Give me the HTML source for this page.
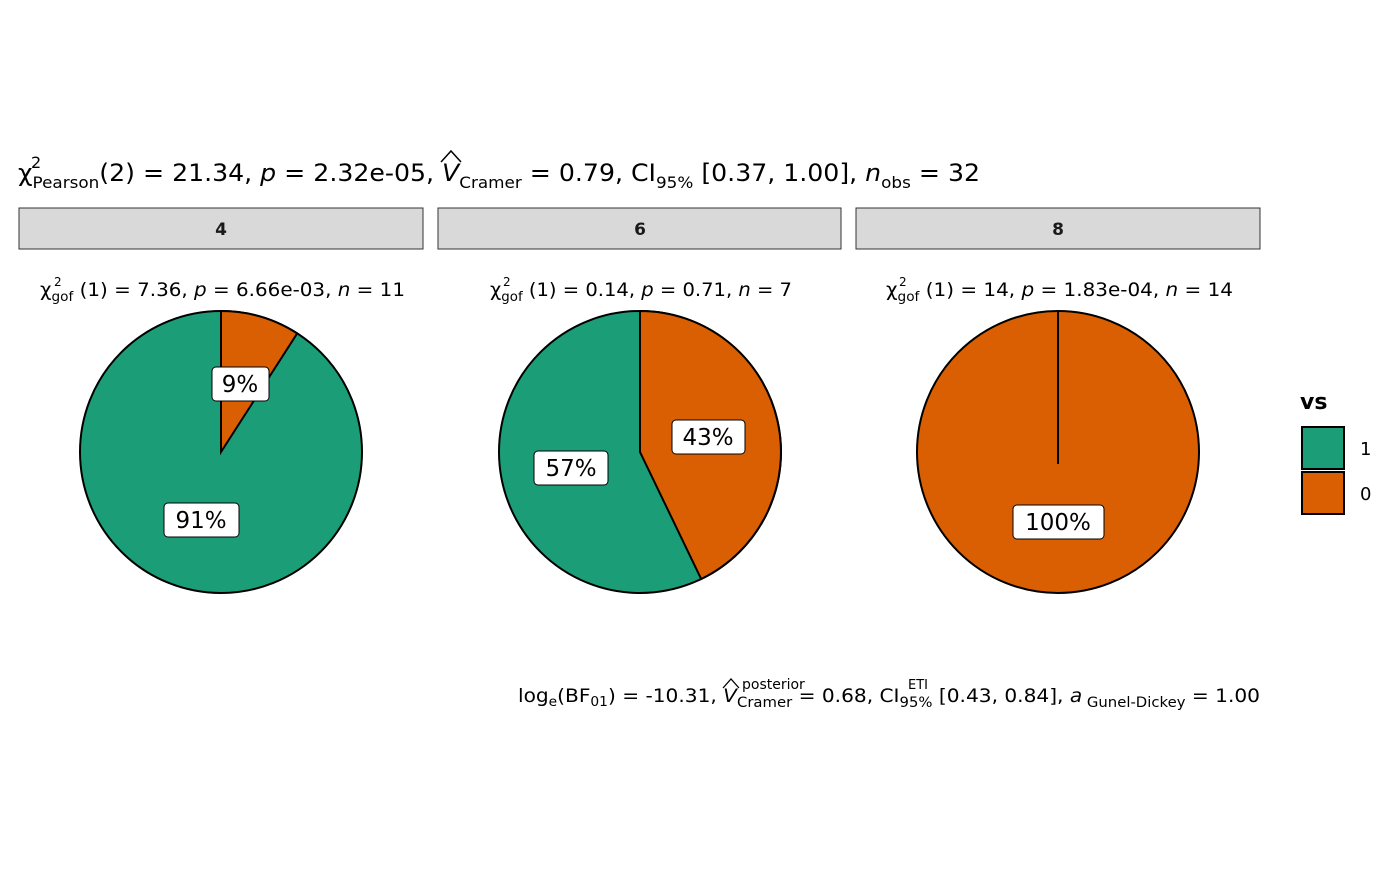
<!DOCTYPE html>
<html><head><style>body{margin:0;background:#fff}</style></head><body>
<svg width="1400" height="866" xmlns="http://www.w3.org/2000/svg" font-family="DejaVu Sans, Liberation Sans, sans-serif">
<rect width="1400" height="866" fill="#fff"/>
<text x="18" y="181" font-size="24" fill="#000" textLength="962" lengthAdjust="spacingAndGlyphs">χ<tspan font-size="16" dy="7">Pearson</tspan><tspan dy="-7">(2) = 21.34, </tspan><tspan font-style="italic">p</tspan> = 2.32e-05, <tspan font-style="italic">V</tspan><tspan font-size="16" dy="7">Cramer</tspan><tspan dy="-7"> = 0.79, CI</tspan><tspan font-size="16" dy="7">95%</tspan><tspan dy="-7"> [0.37, 1.00], </tspan><tspan font-style="italic">n</tspan><tspan font-size="16" dy="7">obs</tspan><tspan dy="-7"> = 32</tspan></text>
<text x="31" y="168" font-size="16">2</text>
<path d="M441 162 L451 151 L461 162" fill="none" stroke="#000" stroke-width="1.5"/>
<g stroke="#333" stroke-width="1" fill="#d9d9d9">
<rect x="19" y="208" width="404" height="41"/><rect x="438" y="208" width="403" height="41"/><rect x="856" y="208" width="404" height="41"/></g>
<g font-size="17" font-weight="bold" fill="#1a1a1a" text-anchor="middle">
<text x="221" y="235">4</text><text x="640" y="235">6</text><text x="1058" y="235">8</text></g>
<g font-size="19" fill="#000" lengthAdjust="spacingAndGlyphs">
<text x="40" y="296" textLength="365" lengthAdjust="spacingAndGlyphs">χ<tspan font-size="13" dy="5">gof</tspan><tspan dy="-5"> (1) = 7.36,  </tspan><tspan font-style="italic">p</tspan> = 6.66e-03,  <tspan font-style="italic">n</tspan> = 11</text>
<text x="490" y="296" textLength="302" lengthAdjust="spacingAndGlyphs">χ<tspan font-size="13" dy="5">gof</tspan><tspan dy="-5"> (1) = 0.14,  </tspan><tspan font-style="italic">p</tspan> = 0.71,  <tspan font-style="italic">n</tspan> = 7</text>
<text x="886" y="296" textLength="347" lengthAdjust="spacingAndGlyphs">χ<tspan font-size="13" dy="5">gof</tspan><tspan dy="-5"> (1) = 14,  </tspan><tspan font-style="italic">p</tspan> = 1.83e-04,  <tspan font-style="italic">n</tspan> = 14</text>
</g>
<g font-size="12"><text x="54" y="286">2</text><text x="503" y="286">2</text><text x="899" y="286">2</text></g>
<g stroke="#000" stroke-width="2">
<circle cx="221" cy="452" r="141" fill="#1b9e77"/>
<path d="M221 452 L221 311 A141 141 0 0 1 297.2 333.4 Z" fill="#d95f02"/>
<circle cx="640" cy="452" r="141" fill="#1b9e77"/>
<path d="M640 452 L640 311 A141 141 0 0 1 701.2 579 Z" fill="#d95f02"/>
<circle cx="1058" cy="452" r="141" fill="#d95f02"/>
<line x1="1058" y1="311" x2="1058" y2="464"/>
</g>
<g stroke="#000" stroke-width="1" fill="#fff">
<rect x="212" y="367" width="57" height="34" rx="4"/>
<rect x="164" y="503" width="75" height="34" rx="4"/>
<rect x="672" y="420" width="73" height="34" rx="4"/>
<rect x="534" y="451" width="74" height="34" rx="4"/>
<rect x="1013" y="505" width="91" height="34" rx="4"/>
</g>
<g font-size="23" text-anchor="middle" fill="#000">
<text x="240" y="392">9%</text><text x="201" y="528">91%</text><text x="708" y="445">43%</text><text x="571" y="476">57%</text><text x="1058" y="530">100%</text>
</g>
<text x="1300" y="409" font-size="22" font-weight="bold">vs</text>
<rect x="1302" y="427" width="42" height="42" fill="#1b9e77" stroke="#000" stroke-width="2"/>
<rect x="1302" y="472" width="42" height="42" fill="#d95f02" stroke="#000" stroke-width="2"/>
<text x="1360" y="455" font-size="18">1</text><text x="1360" y="500" font-size="18">0</text>
<text x="518" y="702" font-size="19" textLength="742" lengthAdjust="spacingAndGlyphs">log<tspan font-size="13" dy="4">e</tspan><tspan dy="-4">(BF</tspan><tspan font-size="13" dy="4">01</tspan><tspan dy="-4">) = -10.31, </tspan><tspan font-style="italic">V</tspan><tspan font-size="14" dy="5">Cramer</tspan><tspan dy="-5"> = 0.68, CI</tspan><tspan font-size="14" dy="5">95%</tspan><tspan dy="-5"> [0.43, 0.84], </tspan><tspan font-style="italic">a</tspan><tspan font-size="14" dy="5"> Gunel-Dickey</tspan><tspan dy="-5"> = 1.00</tspan></text>
<text x="742" y="689" font-size="14">posterior</text>
<text x="908" y="689" font-size="13">ETI</text>
<path d="M723 688 L731 679 L739 688" fill="none" stroke="#000" stroke-width="1.3"/>
</svg>
</body></html>
